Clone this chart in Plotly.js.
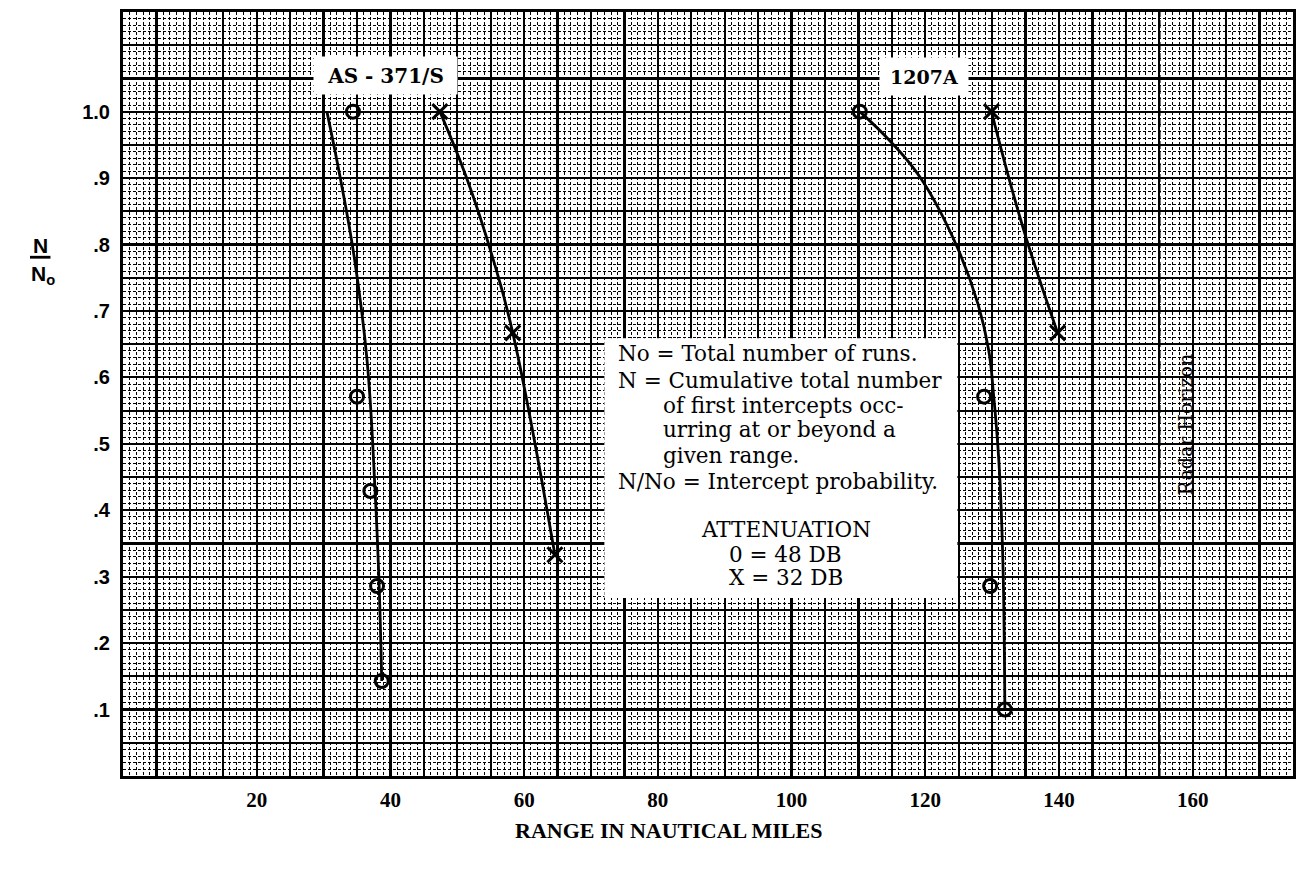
<!DOCTYPE html>
<html><head><meta charset="utf-8">
<script src="https://cdn.plot.ly/plotly-3.0.1.min.js"></script>
<style>html,body{margin:0;padding:0;background:#fff}#chart{width:1302px;height:869px}</style>
</head><body><div id="chart"></div>
<script>
// ---------------- data (range in nautical miles, N/No) ----------------
// AS-371/S, attenuation 48 DB (circles)
const as371_o_range = [34.4, 35.0, 37.0, 38.0, 38.7];
const as371_o_prob  = [1.0, 0.571, 0.429, 0.286, 0.143];
// faired curve drawn for AS-371/S, 48 DB
const as371_o_curve_range = [30.5, 32.5, 34.6, 36.5, 37.7, 38.3, 38.7];
const as371_o_curve_prob  = [1.0, 0.90, 0.78, 0.626, 0.43, 0.29, 0.143];

// AS-371/S, attenuation 32 DB (x)
const as371_x_range = [47.4, 58.3, 64.6];
const as371_x_prob  = [1.0, 0.667, 0.333];
const as371_x_curve_range = [47.4, 51.4, 55.3, 58.3, 64.6];
const as371_x_curve_prob  = [1.0, 0.90, 0.78, 0.667, 0.333];

// 1207A, attenuation 48 DB (circles)
const r1207_o_range = [110.2, 128.8, 129.7, 131.9];
const r1207_o_prob  = [1.0, 0.571, 0.286, 0.1];
const r1207_o_curve_range = [110.2, 114.8, 119.3, 124.6, 127.9, 129.5, 130.2, 131.0, 131.6, 131.9];
const r1207_o_curve_prob  = [1.0, 0.955, 0.90, 0.80, 0.71, 0.64, 0.575, 0.475, 0.325, 0.1];

// 1207A, attenuation 32 DB (x)
const r1207_x_range = [129.9, 139.8];
const r1207_x_prob  = [1.0, 0.667];
const r1207_x_curve_range = [129.9, 134.6, 139.8];
const r1207_x_curve_prob  = [1.0, 0.826, 0.667];

const radarHorizon = 155;

// tick labels and texts
const xTickValues = [20, 40, 60, 80, 100, 120, 140, 160];
const xTickLabels = ['20', '40', '60', '80', '100', '120', '140', '160'];
const yTickValues = [0.1, 0.2, 0.3, 0.4, 0.5, 0.6, 0.7, 0.8, 0.9, 1.0];
const yTickLabels = ['.1', '.2', '.3', '.4', '.5', '.6', '.7', '.8', '.9', '1.0'];
const xTitle = 'RANGE IN NAUTICAL MILES';
const seriesLabels = ['AS - 371/S', '1207A'];
const radarLabel = 'Radar Horizon';

const legendLines = [
  'No = Total number of runs.',
  'N = Cumulative total number',
  'of first intercepts occ-',
  'urring at or beyond a',
  'given range.',
  'N/No = Intercept probability.'
];
const attenuationLines = ['ATTENUATION', '0 = 48 DB', 'X = 32 DB'];

// ---------------- styling ----------------
const X_RANGE = [0, 175];
const Y_RANGE = [0, 1.15];
const serif = 'DejaVu Serif, serif';
const sansBold = 'Liberation Sans, Arial, sans-serif';

const curveLine = {color: '#000', width: 2.8, shape: 'spline', smoothing: 1.2};
const circleMarker = {symbol: 'circle-open', size: 13, color: '#000', line: {width: 3, color: '#000'}};
const xMarker = {symbol: 'x-thin-open', size: 15, color: '#000', line: {width: 3, color: '#000'}};

const traces = [
  {x: as371_o_curve_range, y: as371_o_curve_prob, mode: 'lines', line: curveLine, hoverinfo: 'skip'},
  {x: as371_x_curve_range, y: as371_x_curve_prob, mode: 'lines', line: curveLine, hoverinfo: 'skip'},
  {x: r1207_o_curve_range, y: r1207_o_curve_prob, mode: 'lines', line: curveLine, hoverinfo: 'skip'},
  {x: r1207_x_curve_range, y: r1207_x_curve_prob, mode: 'lines', line: curveLine, hoverinfo: 'skip'},
  {x: as371_o_range, y: as371_o_prob, mode: 'markers', marker: circleMarker},
  {x: as371_x_range, y: as371_x_prob, mode: 'markers', marker: xMarker},
  {x: r1207_o_range, y: r1207_o_prob, mode: 'markers', marker: circleMarker},
  {x: r1207_x_range, y: r1207_x_prob, mode: 'markers', marker: xMarker},
  // carrier for the labelled overlay axes
  {x: [], y: [], xaxis: 'x2', yaxis: 'y2', mode: 'markers', hoverinfo: 'skip'}
];

const gridAxis = (range, dtick, minorDtick) => ({
  range: range, tickmode: 'linear', tick0: 0, dtick: dtick,
  showticklabels: false, ticks: '',
  showgrid: true, gridcolor: '#000', gridwidth: 2.2,
  minor: {tickmode: 'linear', tick0: 0, dtick: minorDtick, showgrid: true,
          gridcolor: '#000', gridwidth: 1, griddash: '3px,2px', ticks: ''},
  zeroline: false, showline: true, linecolor: '#000', linewidth: 3, mirror: true,
  fixedrange: true
});

const annotations = [];
// series labels
annotations.push({x: 39.3, y: 1.054, xref: 'x', yref: 'y', text: seriesLabels[0], showarrow: false,
  xanchor: 'center', yanchor: 'middle',
  font: {family: serif, size: 20, weight: 'bold', color: '#000'}, bgcolor: '#fff', borderpad: 6,
  width: 131, height: 25});
annotations.push({x: 119.8, y: 1.053, xref: 'x', yref: 'y', text: seriesLabels[1], showarrow: false,
  xanchor: 'center', yanchor: 'middle',
  font: {family: serif, size: 19, weight: 'bold', color: '#000'}, bgcolor: '#fff', borderpad: 6,
  width: 76, height: 25});
// explanation box text
const legendY = [0.636, 0.596, 0.558, 0.521, 0.483, 0.443];
const legendX = [73.7, 73.7, 80.5, 80.5, 80.5, 73.7];
legendLines.forEach((t, i) => annotations.push({x: legendX[i], y: legendY[i], xref: 'x', yref: 'y',
  xanchor: 'left', yanchor: 'middle', text: t, showarrow: false,
  font: {family: serif, size: 21.5, color: '#000'}}));
const attY = [0.371, 0.334, 0.299];
attenuationLines.forEach((t, i) => annotations.push({x: 99.1, y: attY[i], xref: 'x', yref: 'y',
  xanchor: 'center', yanchor: 'middle', text: t, showarrow: false,
  font: {family: serif, size: 21.5, color: '#000'}}));
// radar horizon
annotations.push({x: 158.9, y: 0.53, xref: 'x', yref: 'y', text: radarLabel, textangle: -90,
  xanchor: 'center', yanchor: 'middle',
  showarrow: false, font: {family: serif, size: 19, color: '#000'}});
// x title
annotations.push({x: (668 - 123) / 1170, y: -0.071, xref: 'paper', yref: 'paper', text: xTitle,
  xanchor: 'center', yanchor: 'middle', showarrow: false,
  font: {family: 'Liberation Serif, serif', size: 22, weight: 'bold', color: '#000'}});
// y title  N / No
annotations.push({x: -0.0709, y: 0.695, xref: 'paper', yref: 'paper', text: 'N', showarrow: false,
  xanchor: 'center', yanchor: 'middle',
  font: {family: sansBold, size: 21, weight: 'bold', color: '#000'}});
annotations.push({x: -0.0680, y: 0.656, xref: 'paper', yref: 'paper', text: 'N<sub>o</sub>', showarrow: false,
  xanchor: 'center', yanchor: 'middle',
  font: {family: sansBold, size: 21, weight: 'bold', color: '#000'}});

const shapes = [
  // white explanation box
  {type: 'rect', xref: 'x', yref: 'y', x0: 72.0, x1: 124.8, y0: 0.268, y1: 0.659,
   fillcolor: '#fff', line: {width: 0}, layer: 'above'},
  // radar horizon
  {type: 'line', xref: 'x', yref: 'paper', x0: radarHorizon, x1: radarHorizon, y0: 0, y1: 1,
   line: {color: '#000', width: 2.5, dash: '8px,3px'}, layer: 'above'},
  // fraction bar of N/No
  {type: 'line', xref: 'paper', yref: 'paper', x0: -0.0795, x1: -0.0620, y0: 0.679, y1: 0.679,
   line: {color: '#000', width: 2.8}}
];

const layout = {
  width: 1302, height: 869,
  margin: {l: 123, r: 9, t: 12, b: 93},
  paper_bgcolor: '#fff', plot_bgcolor: '#fff',
  showlegend: false,
  xaxis: gridAxis(X_RANGE, 5, 1),
  yaxis: gridAxis(Y_RANGE, 0.05, 0.01),
  xaxis2: {overlaying: 'x', anchor: 'y2', side: 'bottom', range: X_RANGE,
    tickmode: 'array', tickvals: xTickValues, ticktext: xTickLabels, ticks: '',
    ticklabelstandoff: 9, showgrid: false, zeroline: false, showline: false, fixedrange: true,
    tickfont: {family: 'Liberation Serif, serif', size: 21, weight: 'bold', color: '#000'}},
  yaxis2: {overlaying: 'y', anchor: 'x2', side: 'left', range: Y_RANGE,
    tickmode: 'array', tickvals: yTickValues, ticktext: yTickLabels, ticks: '',
    ticklabelstandoff: 12, showgrid: false, zeroline: false, showline: false, fixedrange: true,
    tickfont: {family: sansBold, size: 20, weight: 'bold', color: '#000'}},
  annotations: annotations,
  shapes: shapes
};

Plotly.newPlot('chart', traces, layout, {staticPlot: true, displayModeBar: false});
</script></body></html>
